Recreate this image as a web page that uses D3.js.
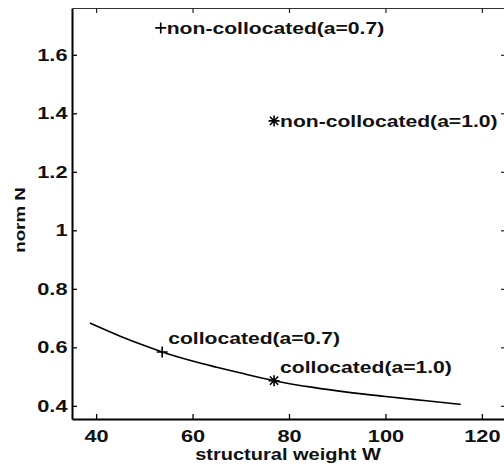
<!DOCTYPE html>
<html><head>
<meta charset="utf-8">
<script src="https://d3js.org/d3.v7.min.js"></script>
<style>
  body { margin: 0; background: #fff; }
  svg text { font-family: "Liberation Sans", Arial, sans-serif; font-weight: bold; fill: #111; }
</style>
</head>
<body>
<svg id="chart" width="504" height="468"></svg>
<script>
// curve: norm N against structural weight W
const curveW = [38.7, 45, 50, 53.7, 60, 65, 70, 76.9, 85, 92, 100, 108, 115.6];
const curveN = [0.683, 0.638, 0.606, 0.584, 0.553, 0.532, 0.512, 0.486, 0.463, 0.447, 0.432, 0.418, 0.405];

// marked designs
const markLabels = ["non-collocated(a=0.7)", "non-collocated(a=1.0)", "collocated(a=0.7)", "collocated(a=1.0)"];
const markW = [53.4, 76.9, 53.7, 76.9];
const markN = [1.692, 1.374, 0.584, 0.486];
const markSym = ["plus", "star", "plus", "star"];
const markTextSide = ["right", "right", "above", "above"];

const xTicks = [40, 60, 80, 100, 120];
const yTicks = [0.4, 0.6, 0.8, 1, 1.2, 1.4, 1.6];

const xLabel = "structural weight W";
const yLabel = "norm N";

const stretch = 1.32;   // the scanned type is wider than Arial

let svg = d3.select("#chart");

let x = d3.scaleLinear().domain([35, 125]).range([72, 506]);
let y = d3.scaleLinear().domain([0.355, 1.76]).range([419, 8]);

// frame with inward ticks on all four sides
let gBottom = svg.append("g").attr("transform", "translate(0,419)")
  .call(d3.axisBottom(x).tickValues(xTicks).tickSizeInner(-5).tickSizeOuter(0).tickPadding(11));
let gLeft = svg.append("g").attr("transform", "translate(72,0)")
  .call(d3.axisLeft(y).tickValues(yTicks).tickSizeInner(-5).tickSizeOuter(0).tickPadding(3.5)
        .tickFormat(d => d3.format("")(d)));
let gTop = svg.append("g").attr("transform", "translate(0,8)")
  .call(d3.axisTop(x).tickValues(xTicks).tickSizeInner(-5).tickSizeOuter(0).tickFormat(""));
let gRight = svg.append("g").attr("transform", "translate(506,0)")
  .call(d3.axisRight(y).tickValues(yTicks).tickSizeInner(-5).tickSizeOuter(0).tickFormat(""));

[gBottom, gLeft].forEach(g => {
  g.select(".domain").attr("stroke", "#000").attr("stroke-width", 2);
  g.selectAll(".tick line").attr("stroke", "#000").attr("stroke-width", 1.3);
  g.selectAll(".tick text").attr("font-size", 17).attr("font-family", null).attr("fill", "#111")
   .attr("transform", `scale(1.28,1)`);
});
[gTop, gRight].forEach(g => {
  g.select(".domain").attr("stroke", "#333").attr("stroke-width", 1.2);
  g.selectAll(".tick line").attr("stroke", "#222").attr("stroke-width", 1.2);
});

// axis titles
svg.append("text")
   .attr("transform", `translate(${(72 + 506) / 2 - 1},460) scale(1.25,1)`)
   .attr("text-anchor", "middle").attr("font-size", 16)
   .text(xLabel);
svg.append("text")
   .attr("transform", `translate(25,220) rotate(-90) scale(1.25,1)`)
   .attr("text-anchor", "middle").attr("font-size", 15)
   .text(yLabel);

// the curve
let pts = curveW.map((w, i) => [w, curveN[i]]);
svg.append("path")
   .datum(pts)
   .attr("fill", "none").attr("stroke", "#000").attr("stroke-width", 1.6)
   .attr("stroke-linejoin", "round")
   .attr("d", d3.line().x(d => x(d[0])).y(d => y(d[1])).curve(d3.curveMonotoneX));

// markers
function markerPath(kind, r) {
  let p = `M${-r},0L${r},0M0,${-r}L0,${r}`;
  if (kind === "star") {
    let k = r * 0.75;
    p += `M${-k},${-k}L${k},${k}M${-k},${k}L${k},${-k}`;
  }
  return p;
}

markLabels.forEach((label, i) => {
  let px = x(markW[i]), py = y(markN[i]);
  svg.append("path")
     .attr("transform", `translate(${px},${py})`)
     .attr("d", markerPath(markSym[i], 5.5))
     .attr("stroke", "#000").attr("stroke-width", 1.6).attr("fill", "none");
  let tx = px + 6;
  let ty = markTextSide[i] === "right" ? py + 6 : py - 8;
  svg.append("text")
     .attr("transform", `translate(${tx},${ty}) scale(${stretch},1)`)
     .attr("font-size", 16)
     .text(label);
});
</script>
</body>
</html>
